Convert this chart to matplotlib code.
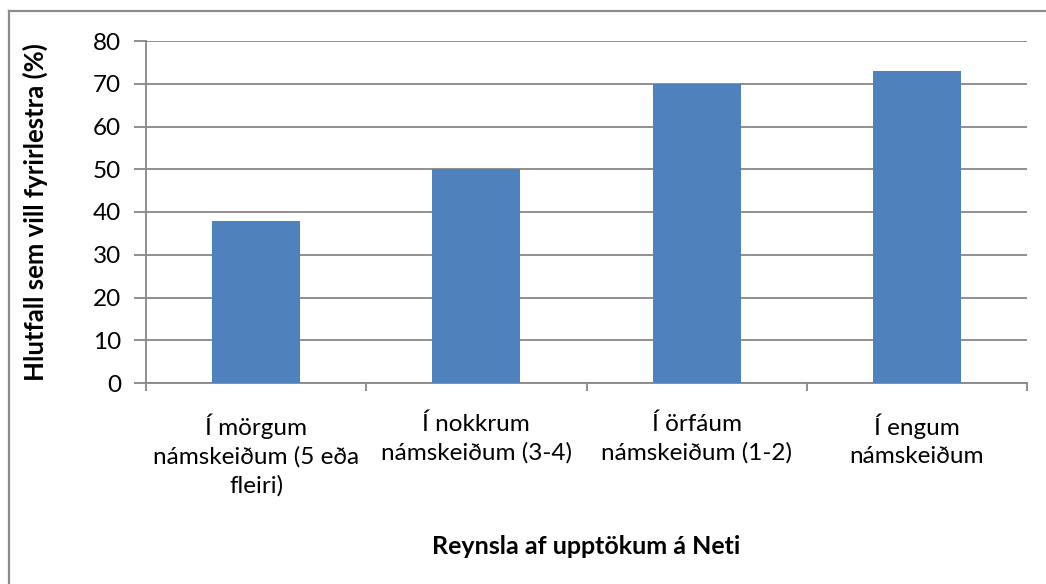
import matplotlib.pyplot as plt
from matplotlib.lines import Line2D

categories = [
    "Í mörgum\nnámskeiðum (5 eða\nfleiri)",
    "Í nokkrum\nnámskeiðum (3-4)",
    "Í örfáum\nnámskeiðum (1-2)",
    "Í engum\nnámskeiðum",
]
values = [38, 50, 70, 73]
y_ticks = [0, 10, 20, 30, 40, 50, 60, 70, 80]

plt.rcParams["font.family"] = ["Lato", "DejaVu Sans"]
axis_grey = "#868686"

fig = plt.figure(figsize=(10.46, 5.84), dpi=100)
ax = fig.add_axes([146 / 1046, 1 - 383 / 584, (1027 - 146) / 1046, (383 - 41) / 584])

x = list(range(len(categories)))
ax.bar(x, values, width=0.4, color="#4F81BD", zorder=3)

ax.set_xlim(-0.5, len(categories) - 0.5)
ax.set_ylim(0, 80)
ax.set_yticks(y_ticks)
ax.tick_params(axis="y", labelsize=17.5, length=9, width=1.3, color=axis_grey, pad=9)

# category labels centred, ticks at category boundaries
ax.set_xticks(x)
ax.set_xticklabels(categories, fontsize=17.5, linespacing=1.4)
ax.tick_params(axis="x", length=0, pad=22)
ax.set_xticks([i + 0.5 for i in range(-1, len(categories))], minor=True)
ax.tick_params(axis="x", which="minor", length=6, width=1.3, color=axis_grey)

ax.grid(axis="y", color=axis_grey, linewidth=1.3, zorder=0)
for s in ["top", "right"]:
    ax.spines[s].set_visible(False)
for s in ["left", "bottom"]:
    ax.spines[s].set_color(axis_grey)
    ax.spines[s].set_linewidth(1.3)

ax.set_ylabel("Hlutfall sem vill fyrirlestra (%)", fontsize=18.5, fontweight="bold")
ax.yaxis.set_label_coords(35 / 1046, 1 - 212 / 584, transform=fig.transFigure)
ax.set_xlabel("Reynsla af upptökum á Neti", fontsize=18, fontweight="bold")
ax.xaxis.set_label_coords(586 / 1046, 1 - 546 / 584, transform=fig.transFigure)
ax.xaxis.label.set_va("center")
ax.yaxis.label.set_va("center")

# outer chart border (only top and left visible in the crop)
fig.add_artist(Line2D([8.5 / 1046, 1], [1 - 10.5 / 584] * 2, transform=fig.transFigure,
                      color="#8c8c8c", linewidth=1.6))
fig.add_artist(Line2D([8.5 / 1046] * 2, [0, 1 - 10.5 / 584], transform=fig.transFigure,
                      color="#8c8c8c", linewidth=1.6))

fig.savefig("out.png", dpi=100)
